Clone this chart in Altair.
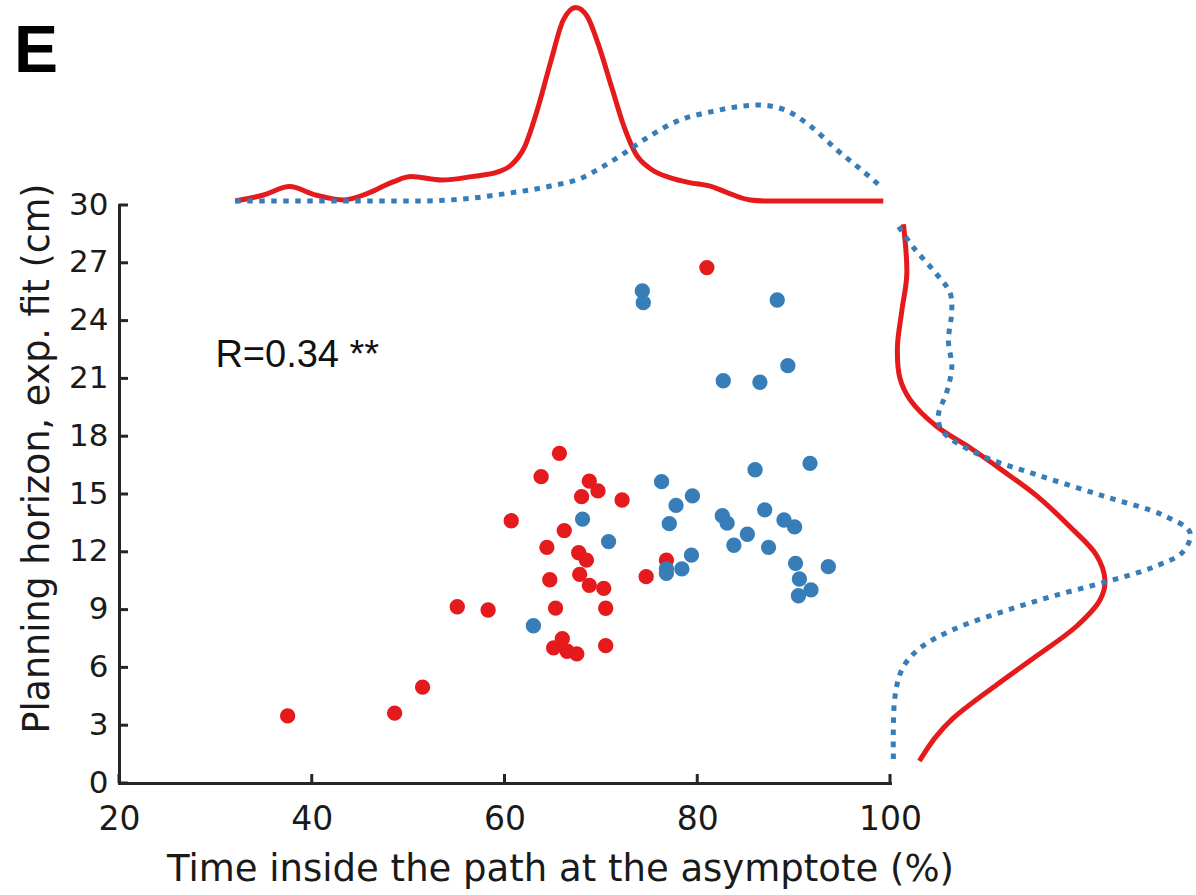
import altair as alt
import pandas as pd

# Scatter: time inside the path (%) vs planning horizon (cm), two groups
red_x = [37.5, 48.6, 51.5, 55.1, 58.3, 60.7, 63.8, 65.7, 64.4, 64.7, 65.3, 66.2, 67.7, 68.5, 67.8,
         68.0, 68.8, 69.7, 68.8, 70.3, 70.5, 72.2, 65.1, 66.0, 66.5, 67.5, 70.5, 74.7, 76.8, 81.0]
red_y = [3.48, 3.63, 4.98, 9.15, 8.98, 13.61, 15.90, 17.11, 12.23, 10.55, 9.08, 13.10, 11.95, 11.57, 10.83,
         14.86, 15.67, 15.16, 10.26, 10.10, 9.07, 14.69, 7.01, 7.49, 6.84, 6.70, 7.13, 10.71, 11.57, 26.75]

blue_x = [63.0, 68.1, 70.8, 74.3, 74.4, 76.3, 77.1, 77.8, 79.5, 76.8, 76.8, 78.4, 79.4, 82.6, 83.1, 83.8,
          85.2, 86.0, 87.0, 87.4, 89.0, 90.1, 90.2, 90.6, 90.5, 91.8, 93.6, 91.7, 82.7, 86.5, 89.4, 88.3]
blue_y = [8.16, 13.70, 12.53, 25.54, 24.93, 15.64, 13.46, 14.41, 14.90, 11.11, 10.88, 11.11, 11.83, 13.87, 13.49, 12.34,
          12.91, 16.26, 14.18, 12.23, 13.65, 13.29, 11.40, 10.59, 9.72, 10.02, 11.23, 16.59, 20.88, 20.80, 21.66, 25.07]

# Marginal density along x (top)
top_red_x = [32.06, 35.0, 37.7, 40.4, 43.3, 45.8, 48.5, 50.3, 53.5, 56.6, 59.4, 60.7, 62.1, 63.4, 64.8,
             66.1, 67.4, 68.6, 69.7, 71.1, 72.4, 73.6, 75.1, 77.4, 79.2, 81.5, 83.3, 85.5, 87.3, 99.3]
top_red_d = [0.0, 0.003, 0.0072, 0.003, 0.0005, 0.0038, 0.0097, 0.0122, 0.0105, 0.0122, 0.0147, 0.018, 0.0272, 0.0455, 0.0697,
             0.0905, 0.0968, 0.0922, 0.0788, 0.0572, 0.0372, 0.0238, 0.0163, 0.0113, 0.0092, 0.0072, 0.0038, 0.0005, 0.0, 0.0]
top_blue_x = [32.06, 50.8, 55.7, 60.3, 64.8, 67.9, 70.2, 72.4, 74.7, 77.8, 81.5, 86.4, 89.1, 91.8, 94.5, 97.25, 98.8]
top_blue_d = [0.0, 0.0, 0.001, 0.0038, 0.0075, 0.0113, 0.0172, 0.0238, 0.0313, 0.0397, 0.0447, 0.048, 0.0455,
              0.0372, 0.0255, 0.0147, 0.0083]

# Marginal density along y (right)
right_red_y = [29.0, 26.4, 24.5, 22.6, 21.0, 19.9, 18.5, 17.4, 16.2, 14.9, 13.3, 11.8, 10.5, 9.5, 8.15, 6.6, 5.1,
               3.35, 2.34, 1.14]
right_red_d = [0.0052, 0.0069, 0.0044, 0.0022, 0.0035, 0.0085, 0.0219, 0.0385, 0.055, 0.0719, 0.0885, 0.1019, 0.106,
               0.1035, 0.0919, 0.0719, 0.0519, 0.03, 0.021, 0.0132]
right_blue_y = [28.9, 27.8, 26.4, 25.45, 24.5, 22.95, 21.6, 20.3, 19.1, 18.3, 17.1, 16.0, 14.9, 13.9, 13.0, 12.0, 11.2,
                10.5, 9.7, 8.9, 7.96, 7.0, 6.0, 4.5, 1.25]
right_blue_d = [0.0027, 0.0102, 0.0219, 0.0285, 0.0294, 0.0277, 0.0294, 0.0269, 0.0227, 0.0244, 0.0419, 0.0719, 0.105,
                0.135, 0.1485, 0.145, 0.13, 0.1085, 0.08, 0.055, 0.03, 0.0135, 0.005, 0.001, 0.0002]

x_ticks = [20, 40, 60, 80, 100]
y_ticks = [0, 3, 6, 9, 12, 15, 18, 21, 24, 27, 30]
stat_label = ["R=0.34 **"]
stat_pos = [30.0, 21.6]

RED = "#E41A1C"
BLUE = "#377EB8"
AXIS = "#262626"
FONT = "DejaVu Sans"

X = alt.Scale(domain=[20, 100], range=[0, 771], nice=False, zero=False)
Y = alt.Scale(domain=[0, 30], range=[783, 205], nice=False, zero=False)

pts = pd.DataFrame({
    "x": red_x + blue_x,
    "y": red_y + blue_y,
    "group": ["red"] * len(red_x) + ["blue"] * len(blue_x),
})

scatter = alt.Chart(pts).mark_circle(size=235, opacity=1).encode(
    x=alt.X("x:Q", scale=X, axis=alt.Axis(
        values=x_ticks, ticks=False, grid=False, domainColor=AXIS, domainWidth=3, domainCap="square",
        labelFont=FONT, labelFontSize=33, labelColor="#1a1a1a", labelPadding=20, labelFlush=False,
        title="Time inside the path at the asymptote (%)", titleFont=FONT, titleFontSize=37,
        titleFontWeight="normal", titleColor="#1a1a1a", titleX=441, titleY=97,
        titleBaseline="alphabetic", titleAlign="center")),
    y=alt.Y("y:Q", scale=Y, axis=alt.Axis(
        values=y_ticks, ticks=False, grid=False, domainColor=AXIS, domainWidth=3, domainCap="square",
        labelFont=FONT, labelFontSize=31, labelColor="#1a1a1a", labelPadding=11, labelFlush=False,
        title="Planning horizon, exp. fit (cm)", titleFont=FONT, titleFontSize=36.5,
        titleFontWeight="normal", titleColor="#1a1a1a", titleX=-71, titleY=458, titleAngle=270,
        titleBaseline="alphabetic", titleAlign="center")),
    color=alt.Color("group:N", scale=alt.Scale(domain=["red", "blue"], range=[RED, BLUE]), legend=None),
    order=alt.Order("idx:Q"),
).transform_window(idx="row_number()")

# inward tick marks on both axes
xt = alt.Chart(pd.DataFrame({"v": x_ticks})).mark_rule(color=AXIS, strokeWidth=3).encode(
    x=alt.X("v:Q", scale=X, axis=None), y=alt.value(783), y2=alt.value(774))
yt = alt.Chart(pd.DataFrame({"v": y_ticks})).mark_rule(color=AXIS, strokeWidth=3).encode(
    y=alt.Y("v:Q", scale=Y, axis=None), x=alt.value(0), x2=alt.value(9))

TOPY = alt.Scale(domain=[0, 0.1], range=[201, 1], nice=False, zero=False)
top_red = alt.Chart(pd.DataFrame({"x": top_red_x, "d": top_red_d})).mark_line(
    color=RED, strokeWidth=5, interpolate="monotone").encode(
    x=alt.X("x:Q", scale=X, axis=None), y=alt.Y("d:Q", scale=TOPY, axis=None))
top_blue = alt.Chart(pd.DataFrame({"x": top_blue_x, "d": top_blue_d})).mark_line(
    color=BLUE, strokeWidth=5, strokeDash=[5.5, 6.5], interpolate="monotone").encode(
    x=alt.X("x:Q", scale=X, axis=None), y=alt.Y("d:Q", scale=TOPY, axis=None))

RIGHTX = alt.Scale(domain=[0, 0.15], range=[774, 1074], nice=False, zero=False)
right_red = alt.Chart(pd.DataFrame({"y": right_red_y, "d": right_red_d})).mark_line(
    color=RED, strokeWidth=5, interpolate="catmull-rom").encode(
    x=alt.X("d:Q", scale=RIGHTX, axis=None), y=alt.Y("y:Q", scale=Y, axis=None), order=alt.Order("y:Q"))
right_blue = alt.Chart(pd.DataFrame({"y": right_blue_y, "d": right_blue_d})).mark_line(
    color=BLUE, strokeWidth=5, strokeDash=[5.5, 6.5], interpolate="catmull-rom").encode(
    x=alt.X("d:Q", scale=RIGHTX, axis=None), y=alt.Y("y:Q", scale=Y, axis=None), order=alt.Order("y:Q"))

stat = alt.Chart(pd.DataFrame({"t": stat_label, "x": [stat_pos[0]], "y": [stat_pos[1]]})).mark_text(
    font="Liberation Sans", fontSize=38, align="left", baseline="alphabetic", color="#111").encode(
    x=alt.X("x:Q", scale=X, axis=None), y=alt.Y("y:Q", scale=Y, axis=None), text="t:N")

panel = alt.Chart(pd.DataFrame({"t": ["E"]})).mark_text(
    font="Liberation Sans", fontSize=66, fontWeight="bold", align="left", baseline="alphabetic",
    color="#000").encode(x=alt.value(-105), y=alt.value(72), text="t:N")

chart = alt.layer(top_red, top_blue, right_red, right_blue, xt, yt, scatter, stat, panel).resolve_scale(
    x="independent", y="independent"
).properties(
    width=1077, height=783,
    autosize=alt.AutoSizeParams(type="none"),
    padding={"left": 119, "top": 0, "right": 0, "bottom": 112},
).configure_view(strokeWidth=0)

chart.save("out.html", embed_options={"renderer": "svg", "actions": False})
